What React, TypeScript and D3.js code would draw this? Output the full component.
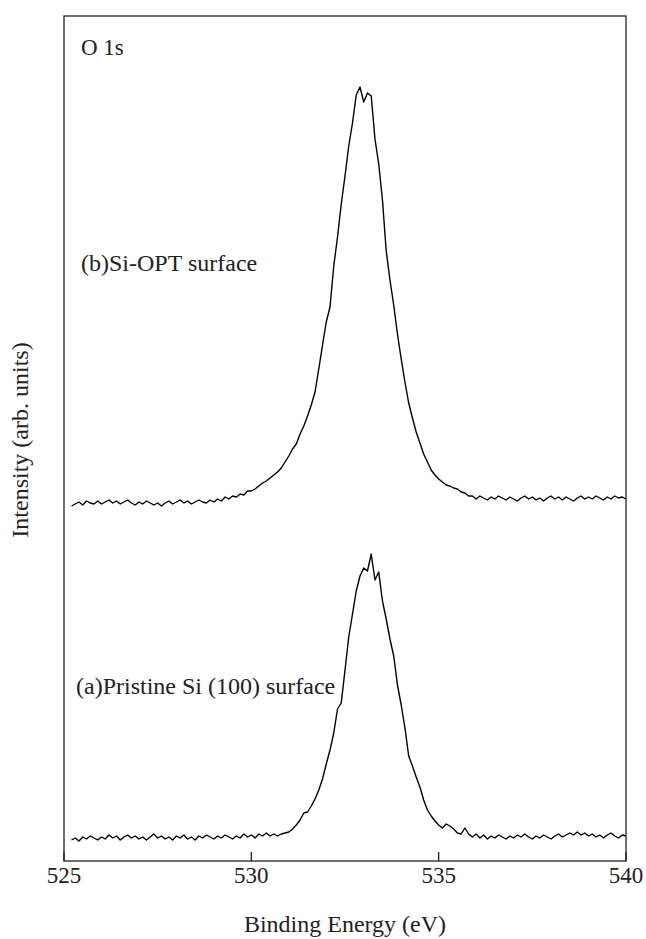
import React from "react";
import * as d3 from "d3";

// Sampling grid of the spectra (binding energy, eV)
const E_START = 525.2;
const E_STEP = 0.1;

// (b) Si-OPT surface, intensity (arb. units), 525.2 ... 540.0 eV
const siOptIntensity: number[] = [
  355, 357, 359, 356, 360, 358, 357, 360, 357, 359,
  361, 358, 360, 357, 359, 361, 358, 356, 359, 357,
  360, 358, 356, 358, 355, 358, 360, 357, 359, 361,
  358, 360, 357, 359, 361, 359, 358, 361, 359,
  362, 360, 364, 362, 365, 364, 367, 366, 370,
  370, 372, 375, 378, 380, 383, 386, 389, 393, 399,
  405, 412, 417, 427, 435, 445, 456, 469, 492, 516,
  539, 554, 595, 624, 657, 685, 715, 738, 766, 774,
  759, 768, 765, 722, 697, 661, 610, 581, 556, 527,
  502, 479, 458, 443, 429, 418, 407, 399, 391, 386,
  382, 379, 376, 375, 373, 372, 369, 368, 365,
  365, 362, 365, 363, 361, 364, 362, 365, 363, 361,
  364, 362, 360, 363, 365, 362, 364, 361, 363, 360,
  363, 365, 362, 364, 361, 364, 362, 360, 363, 365,
  362, 364, 362, 365, 363, 361, 364, 362, 365, 363,
  364, 362,
];

// (a) Pristine Si (100) surface, intensity (arb. units), 525.2 ... 540.0 eV
const pristineIntensity: number[] = [
  21, 23, 20, 24, 22, 25, 23, 21, 24, 22,
  26, 23, 25, 21, 24, 26, 23, 25, 22, 24,
  21, 24, 27, 23, 25, 22, 24, 21, 25, 23,
  26, 22, 24, 21, 25, 23, 26, 24, 22, 25,
  23, 26, 24, 22, 25, 23, 27, 24, 26, 23,
  27, 25, 28,
  25, 27, 25, 27, 28, 29, 32, 36, 41, 48,
  49, 55, 62, 71, 82, 97, 111, 128, 152, 158,
  191, 224, 247, 270, 285, 293, 290, 307, 281, 289,
  260, 242, 222, 205, 176, 156, 133, 105, 95, 84,
  74, 61, 51, 45, 40, 36, 33, 37, 35, 32,
  28, 27, 33, 27,
  24, 27, 23, 26, 22, 25, 23, 26, 24, 22,
  25, 23, 26, 24, 27, 24, 22, 25, 23, 26,
  24, 22, 25, 27, 24, 26, 28, 26, 29, 26,
  28, 25, 27, 24, 26, 23, 26, 28, 25, 23,
  26, 25,
];

const xTicks = [525, 530, 535, 540];

const labels = {
  panel: "O 1s",
  b: "(b)Si-OPT surface",
  a: "(a)Pristine Si (100) surface",
  x: "Binding Energy (eV)",
  y: "Intensity (arb. units)",
};

const W = 646;
const H = 939;
const FONT = "Liberation Serif";
const txt = { fontFamily: FONT, fill: "#222" } as React.CSSProperties;

export default function App() {
  const left = 64, right = 626, top = 16, bottom = 861;
  const x = d3.scaleLinear().domain([525, 540]).range([left, right]);
  const y = d3.scaleLinear().domain([0, 845]).range([bottom, top]);

  const toPts = (vals: number[]) =>
    vals.map((v, i) => [E_START + i * E_STEP, v] as [number, number]);

  const line = d3
    .line<[number, number]>()
    .x((d) => x(d[0]))
    .y((d) => y(d[1]));

  return (
    <svg
      width={W}
      height={H}
      style={{ position: "absolute", left: 0, top: 0, background: "#fff" }}
    >
      <rect x={0} y={0} width={W} height={H} fill="#fff" />
      <rect
        x={left}
        y={top}
        width={right - left}
        height={bottom - top}
        fill="none"
        stroke="#222"
        strokeWidth={1.3}
      />
      {xTicks.map((t) => (
        <g key={t}>
          <line
            x1={x(t)}
            x2={x(t)}
            y1={bottom}
            y2={bottom - 9}
            stroke="#222"
            strokeWidth={1.3}
          />
          <text
            x={x(t)}
            y={bottom + 22}
            textAnchor="middle"
            fontSize={23}
            style={txt}
          >
            {t}
          </text>
        </g>
      ))}
      <path
        d={line(toPts(siOptIntensity)) || ""}
        fill="none"
        stroke="#000"
        strokeWidth={1.4}
        strokeLinejoin="round"
      />
      <path
        d={line(toPts(pristineIntensity)) || ""}
        fill="none"
        stroke="#000"
        strokeWidth={1.4}
        strokeLinejoin="round"
      />
      <text x={81} y={55} fontSize={23} style={txt}>
        {labels.panel}
      </text>
      <text x={81} y={271} fontSize={24} style={txt}>
        {labels.b}
      </text>
      <text x={76} y={694} fontSize={24} style={txt}>
        {labels.a}
      </text>
      <text
        x={(left + right) / 2}
        y={932}
        textAnchor="middle"
        fontSize={24}
        style={txt}
      >
        {labels.x}
      </text>
      <text
        transform={`translate(28, 440) rotate(-90)`}
        textAnchor="middle"
        fontSize={24}
        style={txt}
      >
        {labels.y}
      </text>
    </svg>
  );
}
